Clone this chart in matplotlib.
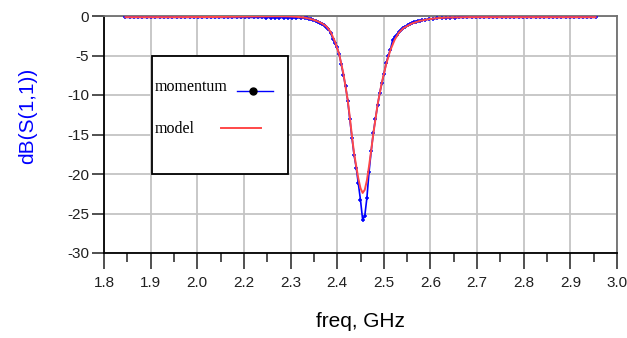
import numpy as np
import matplotlib
matplotlib.use("Agg")
import matplotlib.pyplot as plt
from matplotlib.patches import Rectangle
from matplotlib.lines import Line2D

# momentum (EM simulation) sweep, GHz / dB
mom_freq_left = np.arange(1.85, 2.265, 0.01)
mom_db_left = [-0.17, -0.17, -0.17, -0.17, -0.17, -0.17, -0.17, -0.17, -0.17, -0.17,
               -0.17, -0.17, -0.17, -0.17, -0.17, -0.17, -0.17, -0.17, -0.17, -0.17,
               -0.17, -0.17, -0.17, -0.17, -0.17, -0.17, -0.17, -0.17, -0.17, -0.18,
               -0.18, -0.18, -0.18, -0.19, -0.19, -0.19, -0.20, -0.20, -0.21, -0.21,
               -0.22, -0.23]

mom_freq_dip = np.arange(2.27, 2.5525, 0.005)
mom_db_dip = [-0.25, -0.30, -0.37, -0.44, -0.52, -0.60, -0.72, -0.85, -0.97, -1.10,
              -1.35, -1.70, -2.10, -2.85, -3.45, -3.95, -4.85, -6.10, -7.50, -8.85,
              -10.70, -13.10, -15.40, -17.60, -19.20, -21.20, -23.30, -25.80, -25.30, -23.00,
              -19.70, -17.10, -14.80, -13.00, -11.30, -9.70, -8.50, -7.30, -6.00, -5.00,
              -4.25, -3.10, -2.70, -2.40, -2.00, -1.75, -1.55, -1.35, -1.20, -1.05,
              -0.93, -0.82, -0.73, -0.65, -0.58, -0.52, -0.46]

mom_freq_right = np.arange(2.56, 2.955, 0.01)
mom_db_right = [-0.40, -0.34, -0.29, -0.25, -0.22, -0.20, -0.19, -0.18, -0.17, -0.17,
                -0.17, -0.17, -0.17, -0.17, -0.17, -0.17, -0.17, -0.17, -0.17, -0.17,
                -0.17, -0.17, -0.17, -0.17, -0.17, -0.17, -0.17, -0.17, -0.17, -0.17,
                -0.17, -0.17, -0.17, -0.17, -0.17, -0.17, -0.17, -0.17, -0.17, -0.17]

# circuit model
model_freq = [1.85, 1.95, 2.05, 2.10, 2.15, 2.20, 2.23, 2.25, 2.27,
              2.28, 2.29, 2.30, 2.31, 2.32, 2.33, 2.34, 2.35, 2.36, 2.37,
              2.375, 2.38, 2.385, 2.39, 2.395, 2.40, 2.405, 2.41, 2.415, 2.42,
              2.425, 2.43, 2.44, 2.45, 2.46, 2.47, 2.48, 2.49, 2.50, 2.52,
              2.54, 2.56, 2.58, 2.60, 2.65, 2.75, 2.85, 2.95]
model_db = [-0.15, -0.15, -0.13, -0.10, -0.06, -0.04, -0.05, -0.10, -0.22,
            -0.33, -0.48, -0.68, -0.95, -1.30, -2.00, -3.20, -4.80, -7.30, -10.60,
            -12.80, -15.20, -17.40, -19.00, -20.60, -21.80, -22.40, -22.00, -20.80, -19.00,
            -17.00, -14.90, -11.20, -8.40, -6.10, -4.30, -3.00, -2.10, -1.55, -0.95,
            -0.60, -0.40, -0.27, -0.20, -0.15, -0.15, -0.15, -0.15]

xtick_labels = ["1.8", "1.9", "2.0", "2.2", "2.3", "2.4", "2.5", "2.6", "2.7", "2.8", "2.9", "3.0"]
ytick_vals = [0, -5, -10, -15, -20, -25, -30]

mom_freq = np.concatenate([mom_freq_left, mom_freq_dip, mom_freq_right])
mom_db = np.concatenate([mom_db_left, mom_db_dip, mom_db_right])

fig = plt.figure(figsize=(6.27, 3.38), dpi=100)
ax = fig.add_axes([104/627, 85/338, 513/627, 237/338])

ax.plot(mom_freq, mom_db, color="#0000ff", lw=1.2, marker="+", ms=3.5, mew=1.1, zorder=3)
ax.plot(model_freq, model_db, color="#ff4848", lw=1.4, zorder=4)

ax.set_xlim(1.8, 3.0)
ax.set_ylim(-30, 0)
xt = np.linspace(1.8, 3.0, 12)
ax.set_xticks(xt)
ax.set_xticklabels(xtick_labels, family="Liberation Sans", fontsize=11, color="#202020")
ax.set_xticks((xt[:-1] + xt[1:]) / 2, minor=True)
ax.set_yticks(ytick_vals)
ax.set_yticklabels([str(v) for v in ytick_vals], family="Liberation Sans", fontsize=11, color="#202020")

ax.tick_params(axis="x", which="major", direction="out", length=11.5, width=1.1, pad=5, color="#202020")
ax.tick_params(axis="x", which="minor", direction="out", length=6.5, width=1.1, color="#202020")
ax.tick_params(axis="y", which="major", direction="out", length=8.6, width=1.1, pad=2, color="#202020")

ax.grid(True, which="major", color="#c4c4c4", lw=1.3)
ax.set_axisbelow(True)
ax.spines["left"].set_color("#000000")
ax.spines["bottom"].set_color("#000000")
ax.spines["top"].set_color("#707070")
ax.spines["right"].set_color("#707070")
for s in ax.spines.values():
    s.set_linewidth(1.3)

ax.set_xlabel("freq, GHz", family="Liberation Sans", fontsize=15)
ax.xaxis.set_label_coords(0.5, -0.25)
ax.set_ylabel("dB(S(1,1))", family="Liberation Sans", fontsize=15, color="#0000ff")
ax.yaxis.set_label_coords(-0.13, 0.578)

# ADS style legend box
ax.add_patch(Rectangle((0.0936, 0.333), 0.2651, 0.498, transform=ax.transAxes,
                       facecolor="white", edgecolor="black", lw=1.3, zorder=5))
ax.text(0.0994, 0.684, "momentum", transform=ax.transAxes, family="Liberation Serif",
        fontsize=11.5, va="baseline", zorder=6)
ax.text(0.0994, 0.506, "model", transform=ax.transAxes, family="Liberation Serif",
        fontsize=11.5, va="baseline", zorder=6)
ax.add_line(Line2D([0.2593, 0.3294], [0.684, 0.684], transform=ax.transAxes,
                   color="#0000ff", lw=1.0, zorder=6))
ax.add_line(Line2D([0.2904], [0.684], transform=ax.transAxes, marker="o", ms=5,
                   color="black", zorder=7))
ax.add_line(Line2D([0.2281, 0.3060], [0.5274, 0.5274], transform=ax.transAxes,
                   color="#ff4848", lw=1.4, zorder=6))

fig.savefig("out.png", dpi=100)
